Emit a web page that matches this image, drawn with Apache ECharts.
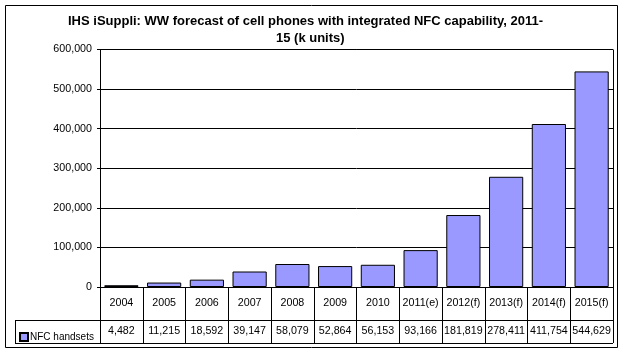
<!DOCTYPE html>
<html>
<head>
<meta charset="utf-8">
<script src="https://cdn.jsdelivr.net/npm/echarts@6/dist/echarts.min.js"></script>
<style>
html,body{margin:0;padding:0;background:#fff;}
#c{width:631px;height:357px;}
</style>
</head>
<body>
<div id="c"></div>
<script>
const titleLine1 = 'IHS iSuppli: WW forecast of cell phones with integrated NFC capability, 2011-';
const titleLine2 = '15 (k units)';
const categories = ['2004','2005','2006','2007','2008','2009','2010','2011(e)','2012(f)','2013(f)','2014(f)','2015(f)'];
const seriesName = 'NFC handsets';
const nfcHandsets = [4482, 11215, 18592, 39147, 58079, 52864, 56153, 93166, 181819, 278411, 411754, 544629];
const yTicks = [0, 100000, 200000, 300000, 400000, 500000, 600000];

const fmt = v => v.toLocaleString('en-US');
const FONT = 'Liberation Sans';
const FS = 10.7;

const GL = 100, GR = 613, GT = 49.5, GB = 287;
const ROW1 = 320, ROW2 = 343;

const chart = echarts.init(document.getElementById('c'), null, {renderer: 'canvas'});
chart.setOption({
  animation: false,
  backgroundColor: '#fff',
  textStyle: {fontFamily: FONT, color: '#000'},
  legend: {
    data: [seriesName],
    left: 14, top: 327,
    icon: 'rect', itemWidth: 8, itemHeight: 8, itemGap: 2,
    textStyle: {fontFamily: FONT, fontSize: 10, color: '#000', padding: [0,0,0,-3]}
  },
  grid: {left: GL, right: 631 - GR, top: GT, bottom: 357 - GB, containLabel: false},
  xAxis: [{
    type: 'category', data: categories, position: 'bottom',
    axisLine: {show: true, lineStyle: {color: '#000', width: 1}},
    axisTick: {show: true, length: ROW2 - GB, lineStyle: {color: '#000'}},
    axisLabel: {fontFamily: FONT, fontSize: FS, color: '#000', margin: 11, interval: 0}
  }, {
    type: 'category', data: nfcHandsets.map(fmt), position: 'bottom', offset: ROW1 - GB,
    axisLine: {show: false}, axisTick: {show: false},
    axisLabel: {fontFamily: FONT, fontSize: FS, color: '#000', margin: 6, interval: 0}
  }],
  yAxis: {
    type: 'value', min: yTicks[0], max: yTicks[yTicks.length - 1], interval: 100000,
    axisLine: {show: true, lineStyle: {color: '#000'}},
    axisTick: {show: true, length: 3, lineStyle: {color: '#000'}},
    axisLabel: {fontFamily: FONT, fontSize: FS, color: '#000', margin: 8, formatter: v => fmt(v)},
    splitLine: {show: true, lineStyle: {color: '#000', width: 1}}
  },
  series: [{
    name: seriesName, type: 'bar', data: nfcHandsets, barCategoryGap: '20%',
    itemStyle: {color: '#9999FF', borderColor: '#000', borderWidth: 1}
  }],
  graphic: [
    {type: 'text', left: 68, top: 15, silent: true,
     style: {text: titleLine1, fill: '#000', font: 'bold 13px "Liberation Sans"'}},
    {type: 'text', left: 276, top: 32, silent: true,
     style: {text: titleLine2, fill: '#000', font: 'bold 13px "Liberation Sans"'}},
    {type: 'rect', shape: {x: 5.5, y: 5.5, width: 612, height: 342}, style: {fill: 'none', stroke: '#000', lineWidth: 1}, silent: true},
    {type: 'line', shape: {x1: GL, y1: GT, x2: GR, y2: GT}, style: {stroke: '#000', lineWidth: 1}},
    {type: 'line', shape: {x1: GR + 0.5, y1: GT, x2: GR + 0.5, y2: GB}, style: {stroke: '#000', lineWidth: 1}},
    {type: 'line', shape: {x1: 15, y1: ROW1 + 0.5, x2: GR, y2: ROW1 + 0.5}, style: {stroke: '#000', lineWidth: 1}},
    {type: 'line', shape: {x1: 15, y1: ROW2 + 0.5, x2: GR, y2: ROW2 + 0.5}, style: {stroke: '#000', lineWidth: 1}},
    {type: 'line', shape: {x1: 15.5, y1: ROW1, x2: 15.5, y2: ROW2 + 1}, style: {stroke: '#000', lineWidth: 1}}
  ]
});
</script>
</body>
</html>
